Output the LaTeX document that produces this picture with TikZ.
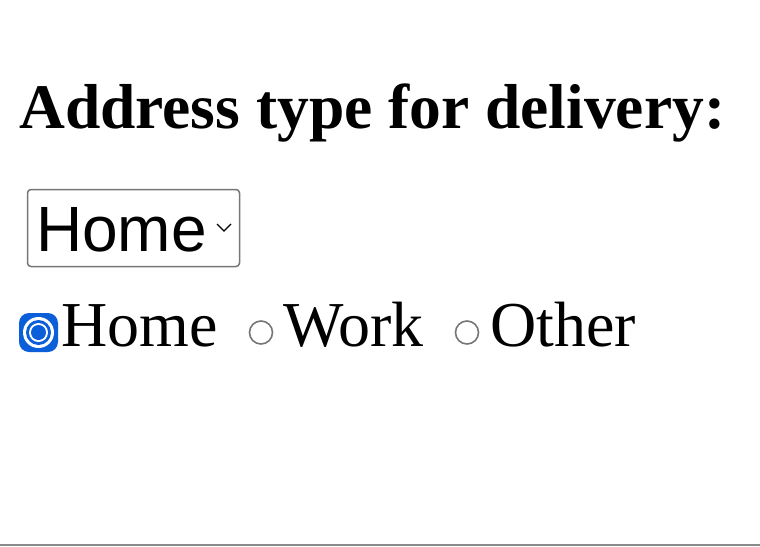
\documentclass[tikz,border=0pt]{standalone}
\usepackage{fontspec}
\setmainfont{Liberation Serif}
\newfontfamily\selfont{Liberation Sans}
\definecolor{radioblue}{HTML}{0B5FD9}
\definecolor{bordergray}{HTML}{767676}
\definecolor{linegray}{HTML}{8A8A8A}
\tikzset{
  txt/.style={inner sep=0pt, anchor=base west},
  radiooff/.style={draw=bordergray, line width=1.6pt, fill=white},
}
\begin{document}
\begin{tikzpicture}[x=1pt,y=-1pt]
\useasboundingbox (0,0) rectangle (760,546);
\fill[white] (0,0) rectangle (760,546);
% title
\node[txt, font=\fontsize{63.5}{70}\selectfont\bfseries] (title) at (19,128) {Address type for delivery:};
% select box
\draw[bordergray, line width=1.5pt, rounded corners=3.5pt] (27.5,189.5) rectangle (239.5,266.5);
\node[txt, font=\selfont\fontsize{64}{70}\selectfont] (seltext) at (36,251) {Home};
\draw[black, line width=1.3pt] (217,224) -- (224,231) -- (231,224);
% checked radio
\coordinate (rc) at (38.5,332.5);
\fill[radioblue, rounded corners=10pt] (19,313) rectangle (58,352);
\fill[white] (rc) circle (15.5);
\fill[radioblue] (rc) circle (12.5);
\fill[white] (rc) circle (9.5);
\fill[radioblue] (rc) circle (7.5);
\node[txt, font=\fontsize{64}{70}\selectfont] (home) at (61,346) {Home};
% work
\draw[radiooff] (261,332.5) circle (11.5);
\node[txt, font=\fontsize{64}{70}\selectfont] (work) at (283,346) {Work};
% other
\draw[radiooff] (467,332.5) circle (11.5);
\node[txt, font=\fontsize{64}{70}\selectfont] (other) at (490,346) {Other};
% bottom line
\fill[linegray] (0,544) rectangle (760,546);
\end{tikzpicture}
\end{document}
